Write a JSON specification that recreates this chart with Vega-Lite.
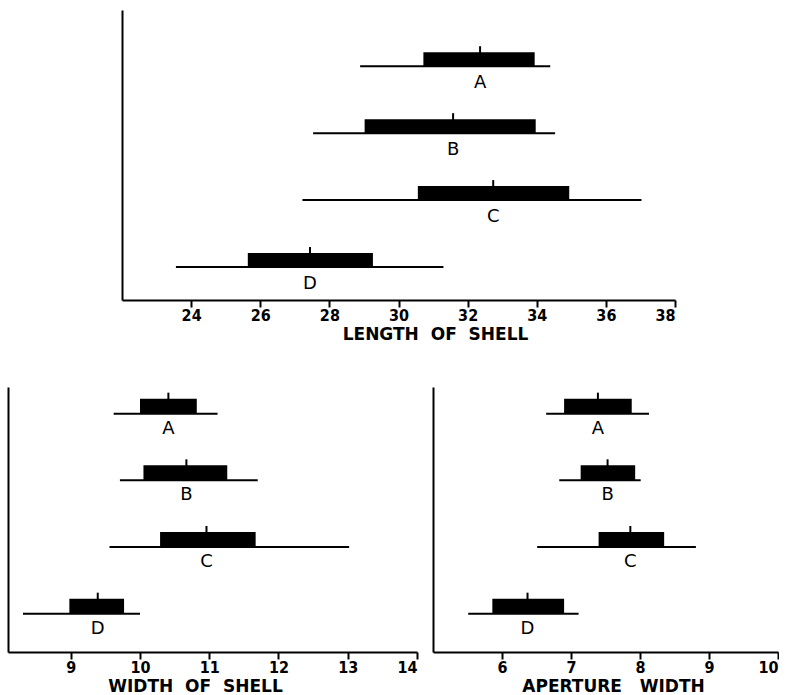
{
  "$schema": "https://vega.github.io/schema/vega-lite/v6.json",
  "padding": {"left": 8, "top": 10, "right": 0, "bottom": 0},
  "background": "white",
  "config": {
    "view": {"stroke": null},
    "axis": {
      "grid": false,
      "domainColor": "black",
      "domainWidth": 2,
      "tickColor": "black",
      "tickWidth": 2,
      "tickSize": 7,
      "labelFont": "Liberation Sans Narrow, DejaVu Sans Condensed, sans-serif",
      "labelFontWeight": "bold",
      "labelFontSize": 16,
      "labelColor": "black",
      "labelPadding": 0,
      "titleFont": "DejaVu Sans",
      "titleFontWeight": "bold",
      "titleFontSize": 17,
      "titleColor": "black",
      "titlePadding": 3
    }
  },
  "datasets": {
    "d": [
      {"panel": "length", "group": "A", "row": 4, "min": 28.89, "max": 34.39, "lo": 30.72, "hi": 33.94, "mean": 32.36},
      {"panel": "length", "group": "B", "row": 3, "min": 27.53, "max": 34.53, "lo": 29.02, "hi": 33.97, "mean": 31.58},
      {"panel": "length", "group": "C", "row": 2, "min": 27.22, "max": 37.03, "lo": 30.56, "hi": 34.94, "mean": 32.74},
      {"panel": "length", "group": "D", "row": 1, "min": 23.56, "max": 31.3, "lo": 25.64, "hi": 29.26, "mean": 27.44},
      {"panel": "width", "group": "A", "row": 4, "min": 9.62, "max": 11.12, "lo": 10.0, "hi": 10.82, "mean": 10.41},
      {"panel": "width", "group": "B", "row": 3, "min": 9.71, "max": 11.7, "lo": 10.05, "hi": 11.26, "mean": 10.67},
      {"panel": "width", "group": "C", "row": 2, "min": 9.56, "max": 13.02, "lo": 10.29, "hi": 11.67, "mean": 10.96},
      {"panel": "width", "group": "D", "row": 1, "min": 8.31, "max": 10.0, "lo": 8.98, "hi": 9.77, "mean": 9.39},
      {"panel": "aperture", "group": "A", "row": 4, "min": 6.64, "max": 8.13, "lo": 6.9, "hi": 7.88, "mean": 7.39},
      {"panel": "aperture", "group": "B", "row": 3, "min": 6.83, "max": 8.01, "lo": 7.14, "hi": 7.93, "mean": 7.53},
      {"panel": "aperture", "group": "C", "row": 2, "min": 6.51, "max": 8.81, "lo": 7.4, "hi": 8.35, "mean": 7.86},
      {"panel": "aperture", "group": "D", "row": 1, "min": 5.51, "max": 7.11, "lo": 5.86, "hi": 6.9, "mean": 6.37}
    ]
  },
  "data": {"name": "d"},
  "spacing": 45,
  "vconcat": [
    {
      "spacing": 0,
      "hconcat": [
        {
          "width": 114,
          "height": 290,
          "data": {"values": []},
          "mark": "point"
        },
        {
          "width": 553,
          "height": 290,
          "transform": [{"filter": "datum.panel === 'length'"}],
          "encoding": {
            "y": {"field": "row", "type": "quantitative", "scale": {"domain": [0.582, 4.765], "nice": false, "zero": false},
                  "axis": {"labels": false, "ticks": false, "title": null}},
            "x": {"field": "min", "type": "quantitative", "scale": {"domain": [22, 38], "nice": false, "zero": false},
                  "axis": {"values": [24, 26, 28, 30, 32, 34, 36, 38], "title": "LENGTH\u00a0\u00a0OF\u00a0\u00a0SHELL", "titleX": 313}}
          },
          "layer": [
            {"mark": {"type": "rule", "strokeWidth": 2, "color": "black"},
             "encoding": {"x2": {"field": "max"}}},
            {"mark": {"type": "bar", "orient": "horizontal", "size": 14, "yOffset": -7, "color": "black"},
             "encoding": {"x": {"field": "lo", "type": "quantitative"}, "x2": {"field": "hi"}}},
            {"mark": {"type": "tick", "orient": "vertical", "size": 20, "thickness": 2, "yOffset": -10, "color": "black", "opacity": 1},
             "encoding": {"x": {"field": "mean", "type": "quantitative"}}},
            {"mark": {"type": "text", "dy": 17, "fontSize": 18, "font": "DejaVu Sans", "baseline": "middle", "color": "black"},
             "encoding": {"x": {"field": "mean", "type": "quantitative"}, "text": {"field": "group"}}}
          ]
        }
      ]
    },
    {
      "spacing": 15,
      "hconcat": [
        {
          "width": 409,
          "height": 265,
          "transform": [{"filter": "datum.panel === 'width'"}],
          "encoding": {
            "y": {"field": "row", "type": "quantitative", "scale": {"domain": [0.5, 4.325], "nice": false, "zero": false},
                  "axis": {"labels": false, "ticks": false, "title": null}},
            "x": {"field": "min", "type": "quantitative", "scale": {"domain": [8.094, 14], "nice": false, "zero": false},
                  "axis": {"values": [9, 10, 11, 12, 13, 14], "title": "WIDTH\u00a0\u00a0OF\u00a0\u00a0SHELL", "titleX": 187}}
          },
          "layer": [
            {"mark": {"type": "rule", "strokeWidth": 2, "color": "black"},
             "encoding": {"x2": {"field": "max"}}},
            {"mark": {"type": "bar", "orient": "horizontal", "size": 15, "yOffset": -7.5, "color": "black"},
             "encoding": {"x": {"field": "lo", "type": "quantitative"}, "x2": {"field": "hi"}}},
            {"mark": {"type": "tick", "orient": "vertical", "size": 21, "thickness": 2, "yOffset": -10.5, "color": "black", "opacity": 1},
             "encoding": {"x": {"field": "mean", "type": "quantitative"}}},
            {"mark": {"type": "text", "dy": 15, "fontSize": 18, "font": "DejaVu Sans", "baseline": "middle", "color": "black"},
             "encoding": {"x": {"field": "mean", "type": "quantitative"}, "text": {"field": "group"}}}
          ]
        },
        {
          "width": 345,
          "height": 265,
          "transform": [{"filter": "datum.panel === 'aperture'"}],
          "encoding": {
            "y": {"field": "row", "type": "quantitative", "scale": {"domain": [0.5, 4.325], "nice": false, "zero": false},
                  "axis": {"labels": false, "ticks": false, "title": null}},
            "x": {"field": "min", "type": "quantitative", "scale": {"domain": [5, 10], "nice": false, "zero": false},
                  "axis": {"values": [6, 7, 8, 9, 10], "title": "APERTURE\u00a0\u00a0\u00a0WIDTH", "titleX": 180}}
          },
          "layer": [
            {"mark": {"type": "rule", "strokeWidth": 2, "color": "black"},
             "encoding": {"x2": {"field": "max"}}},
            {"mark": {"type": "bar", "orient": "horizontal", "size": 15, "yOffset": -7.5, "color": "black"},
             "encoding": {"x": {"field": "lo", "type": "quantitative"}, "x2": {"field": "hi"}}},
            {"mark": {"type": "tick", "orient": "vertical", "size": 21, "thickness": 2, "yOffset": -10.5, "color": "black", "opacity": 1},
             "encoding": {"x": {"field": "mean", "type": "quantitative"}}},
            {"mark": {"type": "text", "dy": 15, "fontSize": 18, "font": "DejaVu Sans", "baseline": "middle", "color": "black"},
             "encoding": {"x": {"field": "mean", "type": "quantitative"}, "text": {"field": "group"}}}
          ]
        }
      ]
    }
  ]
}
